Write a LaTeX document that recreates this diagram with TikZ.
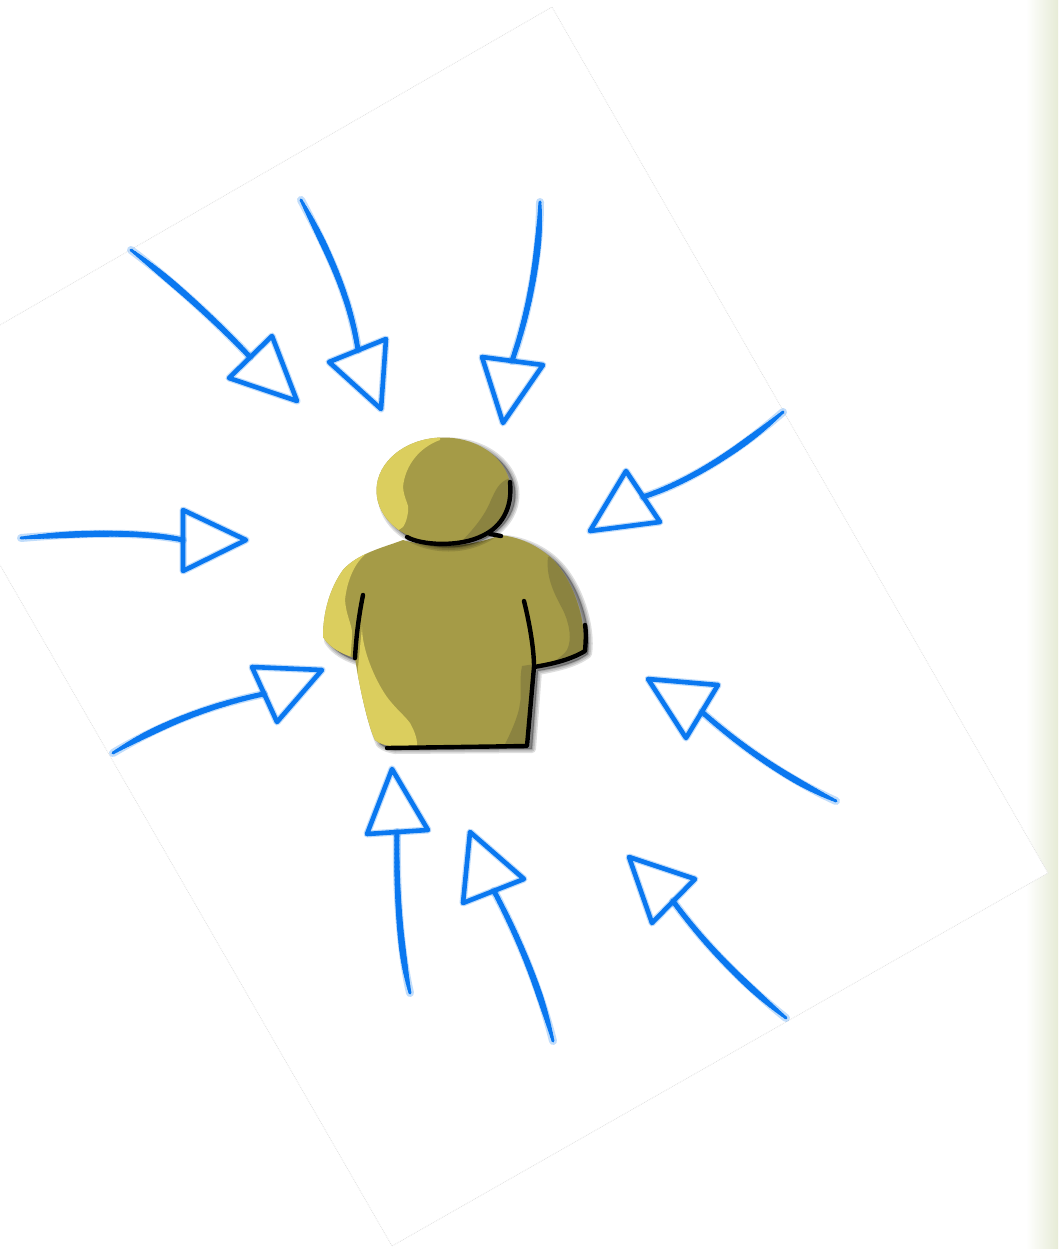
\documentclass[tikz,border=0pt]{standalone}
\usetikzlibrary{calc}
\definecolor{penblue}{HTML}{0A78F0}
\definecolor{olive}{HTML}{A59B47}
\definecolor{olivelight}{HTML}{DBCE5E}
\definecolor{olivedark}{HTML}{8B8340}
\definecolor{sidegreen}{HTML}{E6EBD6}
\definecolor{sheetedge}{HTML}{E2E2E2}
\tikzset{
  sheetline/.style={draw=sheetedge,line width=.8pt,densely dotted},
  halo/.style={draw=penblue,opacity=.25,line width=#1,line cap=round,line join=round},
  pen/.style={draw=penblue,line width=#1,line cap=round,line join=round},
  inkline/.style={draw=black,line width=4.4pt,line cap=round,line join=round},
  softshadow/.style={draw=black,fill=black,opacity=.13,line width=#1,line join=round},
}
\newcommand{\penarrow}[7]{%
  % #1 start, #2 c1, #3 c2, #4 end, #5-#7 head corners
  \coordinate (sA) at #1; \coordinate (sB) at #2; \coordinate (sC) at #3; \coordinate (sD) at #4;
  \path[halo=8pt] (sA) .. controls (sB) and (sC) .. (sD);
  \foreach \i in {0,...,39}{%
    \pgfmathsetmacro{\ta}{\i/40}%
    \pgfmathsetmacro{\tb}{(\i+1)/40}%
    \pgfmathsetmacro{\wd}{3+4.2*sin(min(1,3*\ta)*90)-2.4*\ta}%
    \pgfmathsetmacro{\aa}{(1-\ta)^3}\pgfmathsetmacro{\ab}{3*\ta*(1-\ta)^2}\pgfmathsetmacro{\ac}{3*\ta*\ta*(1-\ta)}\pgfmathsetmacro{\ad}{\ta^3}%
    \pgfmathsetmacro{\ba}{(1-\tb)^3}\pgfmathsetmacro{\bb}{3*\tb*(1-\tb)^2}\pgfmathsetmacro{\bc}{3*\tb*\tb*(1-\tb)}\pgfmathsetmacro{\bd}{\tb^3}%
    \path[pen=\wd pt] (barycentric cs:sA=\aa,sB=\ab,sC=\ac,sD=\ad) -- (barycentric cs:sA=\ba,sB=\bb,sC=\bc,sD=\bd);
  }%
  \path[halo=7pt] #5 -- #6 -- #7 -- cycle;
  \path[pen=4.6pt] #5 -- #6 -- #7 -- cycle;
}
\begin{document}
\begin{tikzpicture}[x=1pt,y=-1pt]
\useasboundingbox (0,0) rectangle (1058,1249);
\fill[white] (0,0) rectangle (1058,1249);
\shade[left color=white,right color=sidegreen] (1026,0) rectangle (1058,1249);
% sheet of paper
\fill[white] (0,325) -- (552,7) -- (1048,873) -- (392,1246) -- (0,565) -- cycle;
\draw[sheetline] (0,325) -- (552,7) -- (1048,873) -- (392,1246) -- (0,565);
% arrows
\penarrow{(131,250)}{(175,283)}{(220,325)}{(250,357)}{(272,336)}{(297,401)}{(229,378)}
\penarrow{(301,200)}{(325,245)}{(350,295)}{(358,350)}{(386,339)}{(381,409)}{(329,362)}
\penarrow{(540,202)}{(540,250)}{(530,310)}{(512,361)}{(482,357)}{(543,365)}{(503,423)}
\penarrow{(783,412)}{(745,445)}{(695,480)}{(643,497)}{(626,471)}{(660,522)}{(590,531)}
\penarrow{(21,538)}{(80,533)}{(140,531)}{(183,540)}{(183,510)}{(246,540)}{(183,571)}
\penarrow{(113,753)}{(160,725)}{(210,705)}{(264,694)}{(252,667)}{(322,670)}{(277,722)}
\penarrow{(410,993)}{(400,950)}{(396,890)}{(397,832)}{(392,769)}{(428,830)}{(367,834)}
\penarrow{(553,1041)}{(540,990)}{(520,940)}{(494,891)}{(470,832)}{(524,879)}{(463,903)}
\penarrow{(786,1018)}{(745,985)}{(705,945)}{(673,901)}{(629,857)}{(695,879)}{(652,923)}
\penarrow{(836,801)}{(790,780)}{(745,750)}{(702,712)}{(648,679)}{(718,685)}{(686,738)}
% figure
\def\bodypath{(403,540) .. controls (385,547) and (358,553) .. (343,570)
  .. controls (330,588) and (323,612) .. (323,637) .. controls (330,648) and (342,654) .. (355,658)
  .. controls (360,690) and (368,725) .. (375,740) .. controls (380,744) and (385,745) .. (390,746)
  -- (527,745) -- (533,667) .. controls (550,664) and (570,660) .. (583,650)
  .. controls (587,625) and (575,580) .. (550,557) .. controls (538,546) and (520,537) .. (500,535)
  .. controls (470,548) and (430,548) .. (403,540) -- cycle}
% soft shadow of the body
\foreach \w in {8,5,2}{\path[softshadow=\w pt,shift={(5,4)}] \bodypath;}
\begin{scope}
  \clip \bodypath;
  \fill[olive] (300,520) rectangle (600,760);
  % light side, left arm
  \fill[olivelight] (300,520) -- (403,530) -- (367,553) .. controls (355,562) and (347,580) .. (345,600)
    .. controls (346,615) and (352,625) .. (352,633) .. controls (352,640) and (351,648) .. (350,665) -- (300,665) -- cycle;
  % light side, lower torso
  \fill[olivelight] (362,627) .. controls (362,650) and (375,680) .. (387,697)
    .. controls (395,708) and (405,716) .. (410,723)
    .. controls (415,732) and (418,740) .. (417,750) -- (350,750) -- cycle;
  % dark side, right arm
  \fill[olivedark] (548,557) .. controls (546,575) and (552,590) .. (563,610)
    .. controls (570,625) and (572,640) .. (567,650) .. controls (563,656) and (555,660) .. (547,668) -- (600,665) -- (600,555) -- cycle;
  % dark side, lower torso
  \fill[olivedark] (535,664) -- (522,666) .. controls (519,680) and (522,695) .. (520,703)
    .. controls (519,715) and (510,735) .. (502,750) -- (540,750) -- cycle;
\end{scope}
% ink lines of the body
\draw[inkline] (363,595) .. controls (358,620) and (356,640) .. (355,658);
\draw[inkline] (524,601) .. controls (530,625) and (534,650) .. (534,667)
  -- (527,746) -- (387,748);
\draw[inkline] (534,667) .. controls (552,664) and (570,660) .. (585,651) .. controls (586,640) and (586,630) .. (585,625);
\draw[inkline] (490,534) -- (501,536);
% head
\foreach \w in {8,5,2}{\path[softshadow=\w pt] (448.5,494.5) ellipse [x radius=67,y radius=53];}
\begin{scope}
  \clip (443.5,490.5) ellipse [x radius=67,y radius=53];
  \fill[olive] (370,430) rectangle (520,550);
  \fill[olivelight] (370,430) -- (440,430) -- (440,440) .. controls (420,447) and (405,465) .. (403,487)
    .. controls (404,500) and (410,505) .. (408,512) .. controls (407,520) and (405,524) .. (403,527) -- (370,550) -- cycle;
  \fill[olivedark] (510,478) .. controls (498,482) and (495,492) .. (491,500)
    .. controls (485,515) and (475,528) .. (458,545) -- (520,550) -- cycle;
\end{scope}
\draw[inkline] (407,537) .. controls (420,545) and (460,548) .. (484,535)
  .. controls (500,527) and (513,510) .. (510,482);
\end{tikzpicture}
\end{document}
